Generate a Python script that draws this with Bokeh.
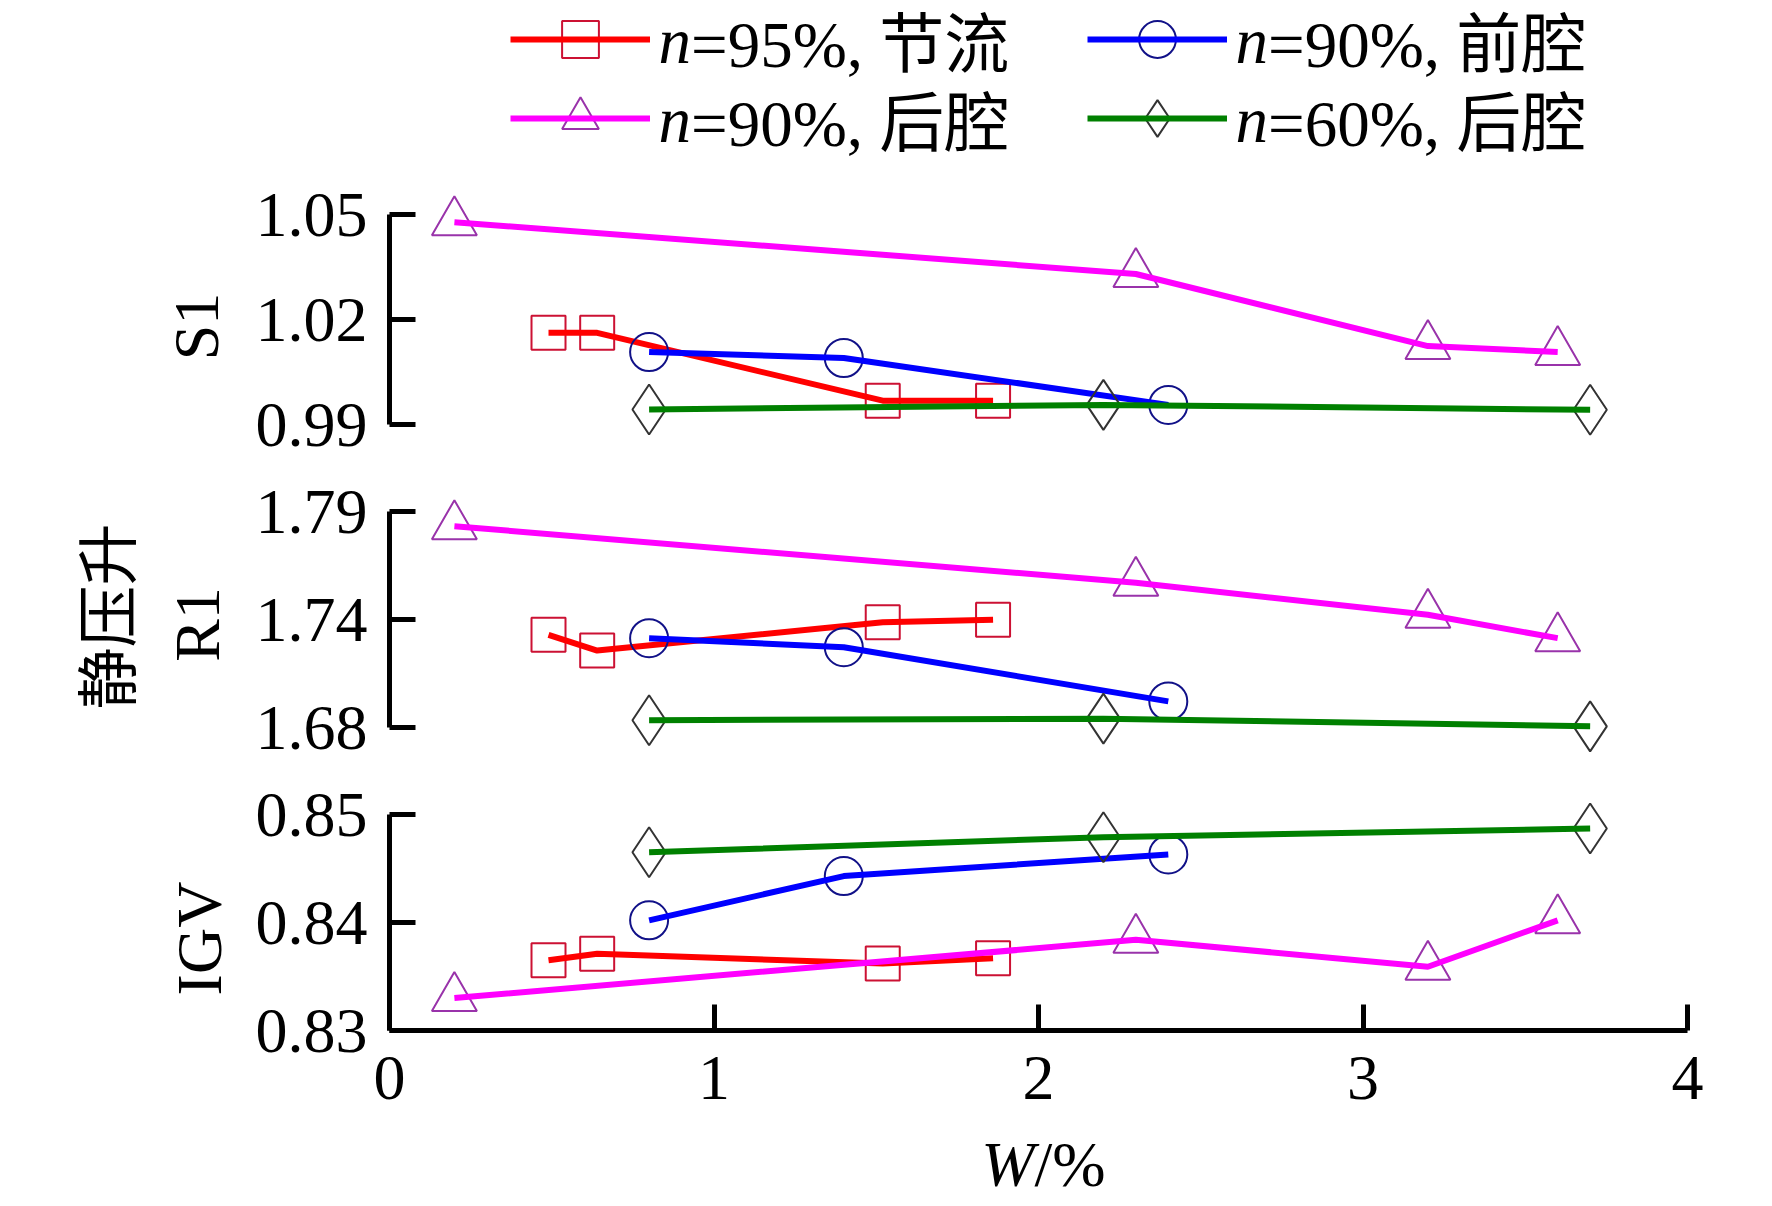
import math
from bokeh.plotting import figure
from bokeh.layouts import column, row
from bokeh.models import Range1d, FixedTicker, Legend, LegendItem, PrintfTickFormatter
from bokeh.core.properties import value
from bokeh.embed import file_html
from bokeh.resources import INLINE

# ---------------- data ----------------
series_var = "n"
series_rest = ["=95%, 节流", "=90%, 前腔", "=90%, 后腔", "=60%, 后腔"]

x_95_jl = [0.49, 0.64, 1.52, 1.86]
x_90_qq = [0.80, 1.40, 2.40]
x_90_hq = [0.20, 2.30, 3.20, 3.60]
x_60_hq = [0.80, 2.20, 3.70]

s1_95_jl = [1.0162, 1.0162, 0.9968, 0.9968]
s1_90_qq = [1.0107, 1.0090, 0.9956]
s1_90_hq = [1.0478, 1.0330, 1.0124, 1.0107]
s1_60_hq = [0.9943, 0.9956, 0.9942]

r1_95_jl = [1.7272, 1.7192, 1.7336, 1.7349]
r1_90_qq = [1.7255, 1.7209, 1.6933]
r1_90_hq = [1.7825, 1.7537, 1.7374, 1.7255]
r1_60_hq = [1.6837, 1.6845, 1.6806]

igv_95_jl = [0.8365, 0.8371, 0.8362, 0.8367]
igv_90_qq = [0.8402, 0.8443, 0.8463]
igv_90_hq = [0.8330, 0.8384, 0.8359, 0.8402]
igv_60_hq = [0.8465, 0.8479, 0.8487]

x_ticks = [0, 1, 2, 3, 4]
s1_ticks = [0.99, 1.02, 1.05]
s1_tick_labels = ["0.99", "1.02", "1.05"]
r1_ticks = [1.68, 1.735, 1.79]
r1_tick_labels = ["1.68", "1.74", "1.79"]
igv_ticks = [0.83, 0.84, 0.85]
igv_tick_labels = ["0.83", "0.84", "0.85"]

panel_names = ["S1", "R1", "IGV"]
y_title = "静压升"
x_title_var = "W"
x_title_unit = "/%"

# ---------------- styles / layout (page pixels) ----------------
SERIF = "Liberation Serif"
MIXED = "'Liberation Serif', 'Noto Sans CJK SC'"
line_colors = ["#ff0000", "#0000ff", "#ff00ff", "#008000"]
edge_colors = ["#cc1133", "#111188", "#9933aa", "#333333"]
markers = ["square", "circle", "triangle", "diamond"]
msizes = [34, 38, 45, 50]

LEFT_W = 248          # width of the left text strip
FRAME_LEFT = 389
FRAME_W = 1298
RIGHT_END = 1767
BOTTOM_END = 1206
X0, X1 = 0.0, 4.0
LEG_FONT = "65px"

panels = [
    # ticks, labels, lo_px, hi_px, frame_top, frame_bottom, bottom_border
    (s1_ticks, s1_tick_labels, 424, 214, 0, 468, 0),
    (r1_ticks, r1_tick_labels, 727, 511, 468, 771, 0),
    (igv_ticks, igv_tick_labels, 1030, 814, 771, 1030, 98),
]
panel_data = [
    [s1_95_jl, s1_90_qq, s1_90_hq, s1_60_hq],
    [r1_95_jl, r1_90_qq, r1_90_hq, r1_60_hq],
    [igv_95_jl, igv_90_qq, igv_90_hq, igv_60_hq],
]
xs = [x_95_jl, x_90_qq, x_90_hq, x_60_hq]


def style_axis(ax, ticks, standoff):
    ax.ticker = FixedTicker(ticks=ticks, minor_ticks=[])
    ax.bounds = (ticks[0], ticks[-1])
    ax.major_tick_in = 26
    ax.major_tick_out = 0
    ax.minor_tick_in = 0
    ax.minor_tick_out = 0
    ax.axis_line_width = 5
    ax.major_tick_line_width = 5
    ax.axis_line_color = "black"
    ax.major_tick_line_color = "black"
    ax.major_label_text_font = SERIF
    ax.major_label_text_font_size = "64px"
    ax.major_label_text_color = "black"
    ax.major_label_standoff = standoff


def text_fig(left, right, top, bottom):
    p = figure(width=right - left, height=bottom - top,
               x_range=Range1d(left, right), y_range=Range1d(-bottom, -top),
               output_backend="svg", toolbar_location=None, title=None,
               x_axis_location=None, y_axis_location=None,
               min_border_left=0, min_border_right=0, min_border_top=0, min_border_bottom=0,
               background_fill_color="white", border_fill_color="white",
               outline_line_color=None)
    p.grid.visible = False
    return p


figs = []
all_renderers = []
pix_maps = []
for i, (ticks, tlabels, lo_px, hi_px, ft, fb, bb) in enumerate(panels):
    lo, hi = ticks[0], ticks[-1]
    per = (hi - lo) / (lo_px - hi_px)
    y0 = lo - (fb - lo_px) * per
    y1 = hi + (hi_px - ft) * per
    pix_maps.append((hi, hi_px, per))
    last = i == len(panels) - 1
    p = figure(
        frame_width=FRAME_W, frame_height=fb - ft,
        x_range=Range1d(X0, X1), y_range=Range1d(y0, y1),
        output_backend="svg", toolbar_location=None, title=None,
        x_axis_location="below" if last else None,
        min_border_left=FRAME_LEFT - LEFT_W, min_border_right=RIGHT_END - FRAME_LEFT - FRAME_W,
        min_border_top=0, min_border_bottom=bb,
        background_fill_color="white", border_fill_color="white",
        outline_line_color=None,
    )
    p.grid.visible = False

    ax = p.yaxis[0]
    style_axis(ax, ticks, 22)
    ax.formatter = PrintfTickFormatter(format="%.2f")
    ax.major_label_overrides = {t: l for t, l in zip(ticks, tlabels)}
    if last:
        style_axis(p.xaxis[0], x_ticks, 26)

    rends = []
    for k in range(4):
        sc = p.scatter(xs[k], panel_data[i][k], marker=markers[k], size=msizes[k],
                       fill_color=None, line_color=edge_colors[k], line_width=2)
        ln = p.line(xs[k], panel_data[i][k], line_color=line_colors[k], line_width=6)
        rends.append((sc, ln))
    all_renderers.append(rends)
    figs.append(p)


def px_x(px):
    return X0 + (px - FRAME_LEFT) * (X1 - X0) / FRAME_W


def px_y(panel, py):
    hi, hi_px, per = pix_maps[panel]
    return hi - (py - hi_px) * per


# ---------------- legend: 2 x 2 grid of single-item legends on top figure ----------------
p1 = figs[0]
r = all_renderers[0]
GH = 92
GW = 140
N_GAP = 8
N_ADV = 33   # advance width of the italic "n"
legend_cells = [  # series index, glyph left px, row centre px
    (0, 510, 40), (1, 1087, 40), (2, 510, 119), (3, 1087, 119),
]
for j, left_px, cy in legend_cells:
    p1.add_layout(Legend(
        items=[LegendItem(label=series_rest[j], renderers=[r[j][0], r[j][1]])],
        location=(left_px - FRAME_LEFT, panels[0][5] - (cy + GH / 2)),
        orientation="vertical", glyph_width=GW, glyph_height=GH, label_height=GH,
        label_width=10, spacing=0, padding=0, margin=0, label_standoff=N_GAP + N_ADV,
        border_line_color=None, background_fill_alpha=0,
        label_text_font=MIXED, label_text_font_size=LEG_FONT, label_text_color="black"))

# italic variable "n" in front of each legend label
p1.text(x=[px_x(c[1] + GW + N_GAP) for c in legend_cells],
        y=[px_y(0, c[2]) for c in legend_cells],
        text=[series_var] * len(legend_cells), text_align="left", text_baseline="middle",
        text_font=value(SERIF), text_font_style="italic", text_font_size=LEG_FONT,
        text_color="black")

# ---------------- left strip with the rotated titles ----------------
strip_bottom = panels[2][5] + panels[2][6]
tl = text_fig(0, LEFT_W, 0, strip_bottom)
name_x = [196, 197, 199]
name_y = [326, 624, 938]
tl.text(x=name_x, y=[-v for v in name_y], text=panel_names, angle=math.pi / 2,
        text_align="center", text_baseline="middle", text_font=value(SERIF),
        text_font_size="64px", text_color="black")
tl.text(x=[103], y=[-616], text=[y_title], angle=math.pi / 2,
        text_align="center", text_baseline="middle", text_font=value("Noto Sans CJK SC"),
        text_font_size="62px", text_color="black")

# ---------------- bottom strip (full width) with the x title ----------------
tb = text_fig(0, RIGHT_END, strip_bottom, BOTTOM_END)
tb.text(x=[1034], y=[-1164], text=[x_title_var], text_align="right", text_baseline="middle",
        text_font=value(SERIF), text_font_style="italic", text_font_size="64px",
        text_color="black")
tb.text(x=[1034], y=[-1164], text=[x_title_unit], text_align="left", text_baseline="middle",
        text_font=value(SERIF), text_font_size="64px", text_color="black")

layout = column(row(tl, column(*figs, spacing=0), spacing=0), tb, spacing=0)
open("out.html", "w").write(file_html(layout, INLINE))
